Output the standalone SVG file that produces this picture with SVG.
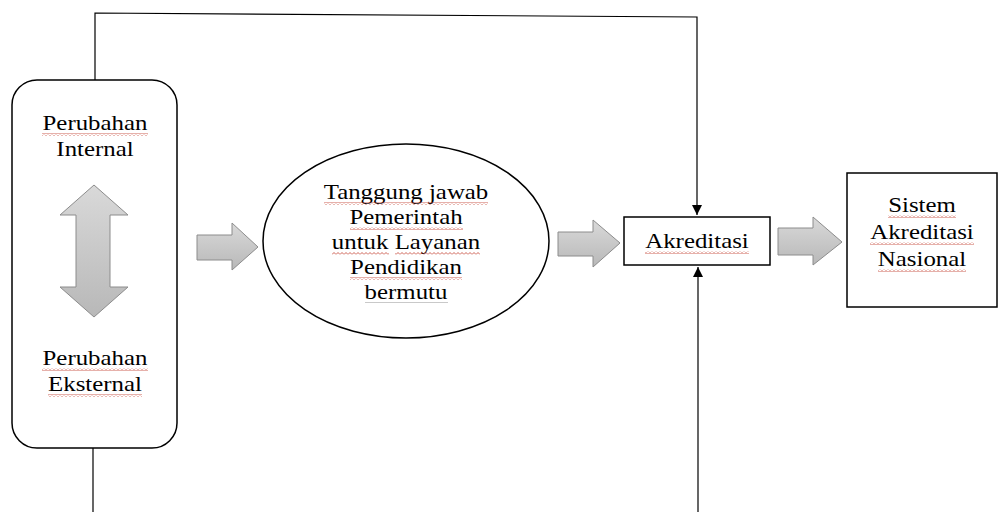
<svg xmlns="http://www.w3.org/2000/svg" width="998" height="512" viewBox="0 0 998 512">
<style>
.t{font-family:"Liberation Serif","Times New Roman",serif;font-size:22px;fill:#000;text-anchor:middle}
.box{fill:#fff;stroke:#000;stroke-width:1.5}
.conn{fill:none;stroke:#000;stroke-width:1.2}
.blk{fill:url(#grey);stroke:#8c8c8c;stroke-width:1}
.sq{fill:url(#wave)}
</style>
<defs>
<linearGradient id="grey" x1="0" y1="0" x2="0" y2="1">
<stop offset="0" stop-color="#d9d9d9"/>
<stop offset="1" stop-color="#b8b8b8"/>
</linearGradient>
<pattern id="wave" width="4" height="3" patternUnits="userSpaceOnUse">
<path d="M0 2.5 L2 0.5 L4 2.5" fill="none" stroke="#c0392b" stroke-width="0.8"/>
</pattern>
<marker id="ah" markerWidth="10" markerHeight="12" refX="10" refY="5" orient="auto" markerUnits="userSpaceOnUse" viewBox="0 0 10 10">
<path d="M0 0 L10 5 L0 10 Z" fill="#000"/>
</marker>
</defs>

<g id="connectors">
<path class="conn" d="M95 80 V13 L697 17 V215" marker-end="url(#ah)"/>
<path class="conn" d="M698 512 V267" marker-end="url(#ah)"/>
<path class="conn" d="M93 448 V512"/>
</g>

<g id="perubahan">
<rect class="box" x="12" y="80" width="165" height="368" rx="25" ry="25"/>
<text class="t" transform="translate(95,130) scale(1.13,1)">Perubahan</text>
<text class="t" transform="translate(95,156) scale(1.13,1)">Internal</text>
<path class="blk" d="M94 185 L128 215 L110 215 L110 287 L128 287 L94 317 L60 287 L76 287 L76 215 L60 215 Z"/>
<text class="t" transform="translate(95,365) scale(1.13,1)">Perubahan</text>
<text class="t" transform="translate(95,391) scale(1.13,1)">Eksternal</text>
<rect class="sq" x="42" y="133" width="106" height="3"/>
<rect class="sq" x="42" y="368" width="106" height="3"/>
<rect class="sq" x="48" y="394" width="94" height="3"/>
</g>

<g id="arrow1"><path class="blk" d="M197 235 H232 V223 L258 247 L232 270 V260 H197 Z"/></g>

<g id="tanggungjawab">
<ellipse class="box" cx="406" cy="241" rx="143" ry="97"/>
<text class="t" transform="translate(406,199) scale(1.13,1)">Tanggung jawab</text>
<text class="t" transform="translate(406,224) scale(1.13,1)">Pemerintah</text>
<text class="t" transform="translate(406,249) scale(1.13,1)">untuk Layanan</text>
<text class="t" transform="translate(406,274) scale(1.13,1)">Pendidikan</text>
<text class="t" transform="translate(406,299) scale(1.13,1)">bermutu</text>
<rect class="sq" x="324" y="202" width="164" height="3"/>
<rect class="sq" x="350" y="227" width="113" height="3"/>
<rect class="sq" x="332" y="252" width="57" height="3"/>
<rect class="sq" x="395" y="252" width="85" height="3"/>
<rect class="sq" x="350" y="277" width="112" height="3"/>
<rect x="365" y="302" width="83" height="1" fill="#c9c9c9"/>
</g>

<g id="arrow2"><path class="blk" d="M558 232 H593 V220 L620 243 L593 267 V256 H558 Z"/></g>

<g id="akreditasi">
<rect class="box" x="624" y="217" width="146" height="48"/>
<text class="t" transform="translate(697,248) scale(1.13,1)">Akreditasi</text>
<rect class="sq" x="645" y="251" width="104" height="3"/>
</g>

<g id="arrow3"><path class="blk" d="M778 228 H813 V217 L842 242 L813 265 V255 H778 Z"/></g>

<g id="sistem">
<rect class="box" x="847" y="173" width="150" height="134"/>
<text class="t" transform="translate(922,212) scale(1.13,1)">Sistem</text>
<text class="t" transform="translate(922,239) scale(1.13,1)">Akreditasi</text>
<text class="t" transform="translate(922,266) scale(1.13,1)">Nasional</text>
<rect class="sq" x="888" y="215" width="68" height="3"/>
<rect class="sq" x="870" y="242" width="104" height="3"/>
<rect class="sq" x="878" y="269" width="88" height="3"/>
</g>
</svg>
